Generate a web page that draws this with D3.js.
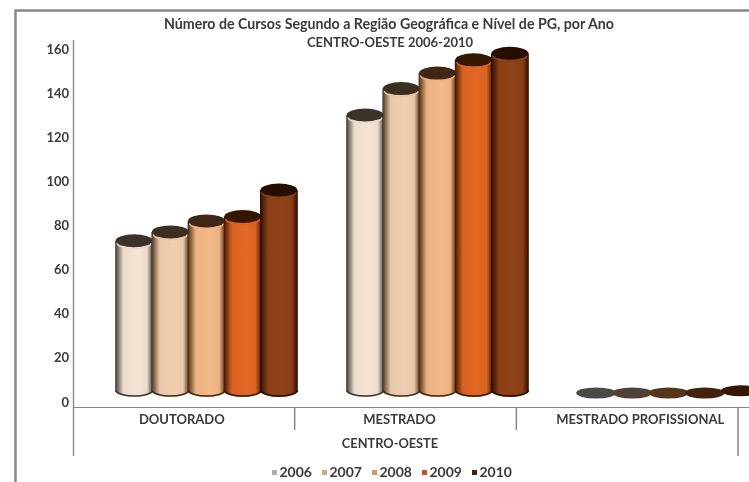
<!DOCTYPE html>
<html><head><meta charset="utf-8">
<script src="https://cdn.jsdelivr.net/npm/d3@7"></script>
<style>html,body{margin:0;padding:0;background:#fff;overflow:hidden}
svg{display:block}text{font-family:Lato,"Open Sans",sans-serif;font-weight:700;fill:#3a3a3a}</style>
</head><body><svg id="c" width="749" height="482"></svg>
<script>
const categories = ["DOUTORADO","MESTRADO","MESTRADO PROFISSIONAL"];
const years = ["2006","2007","2008","2009","2010"];
const values2006 = [69,126,0];
const values2007 = [73,138,0];
const values2008 = [78,145,0];
const values2009 = [80,151,0];
const values2010 = [92,154,1];
const seriesValues = [values2006,values2007,values2008,values2009,values2010];
const yTicks = [0,20,40,60,80,100,120,140,160];
const colors = ["#ecdccd","#e8c8aa","#ebb283","#da6324","#8a3f16"];
const darks  = ["#3a322c","#3e2e20","#402712","#341606","#260e04"];
const rim    = ["#7a6f65","#806248","#805630","#74300c","#4c1c08"];
const diskColors = ["#4c4844","#4e4236","#54361e","#44220e","#341404"];
const title1 = "Número de Cursos Segundo a Região Geográfica e Nível de PG, por Ano";
const title2 = "CENTRO-OESTE 2006-2010";
const regionLabel = "CENTRO-OESTE";

const svg = d3.select("#c");
const defs = svg.append("defs");
const f = (id,s)=>defs.append("filter").attr("id",id).attr("x","-5%").attr("y","-5%").attr("width","110%").attr("height","110%")
  .append("feGaussianBlur").attr("stdDeviation",s);
f("soft",0.6); f("softText",0.55);
colors.forEach((c,i)=>{
  const g = defs.append("linearGradient").attr("id","g"+i);
  [[0,darks[i]],[0.07,rim[i]],[0.22,c],[0.6,d3.color(c).brighter(0.1)],[0.84,c],[0.95,rim[i]],[1,darks[i]]]
    .forEach(s=>g.append("stop").attr("offset",s[0]).attr("stop-color",s[1]));
});
const root = svg.append("g").attr("filter","url(#soft)");
const textRoot = svg.append("g").attr("filter","url(#softText)");

// frame
root.append("path").attr("d","M15.5,482V10.5H749").attr("fill","none").attr("stroke","#868686").attr("stroke-width",2.4);

// scales
const labelY = d3.scaleLinear().domain([0,160]).range([402,49]);
const barY = d3.scaleLinear().domain([0,160]).range([393,40]);
const sepX = d3.scaleBand().domain(categories).range([73,738]);
const groupX = d3.scaleBand().domain(categories).range([91,784]);
const barX = d3.scaleBand().domain(years).range([0,181]);
const labelShift = [-2,-6,13];

// axes lines
const ax = "#868686";
root.append("path").attr("d","M73.5,40V456").attr("stroke",ax).attr("stroke-width",1.3).attr("fill","none");
root.append("path").attr("d","M73,407.5H749").attr("stroke",ax).attr("stroke-width",1.1).attr("fill","none");
categories.forEach(c=>{
  const x = sepX(c)+sepX.bandwidth();
  const last = c===categories[categories.length-1];
  root.append("path").attr("d",`M${x},408V${last?456:430}`).attr("stroke",ax).attr("stroke-width",1.5).attr("fill","none");
});

// y labels
textRoot.selectAll(".yl").data(yTicks).join("text").attr("class","yl")
  .attr("x",69).attr("y",d=>labelY(d)).attr("dy","0.35em").attr("text-anchor","end")
  .attr("font-size",13).text(d=>d);

// cylinders
const ry = 6.5, rx = barX.bandwidth()/2 + 0.8;
categories.forEach((cat,ci)=>{
  years.forEach((yr,si)=>{
    const v = seriesValues[si][ci];
    const cx = groupX(cat)+ (groupX.bandwidth()-181)/2 + barX(yr) + barX.bandwidth()/2;
    const yb = barY(0), yt = barY(v);
    const g = root.append("g");
    if (v > 5) {
      const arc = `A${rx},${ry} 0 0 0 ${cx+rx},${yb-ry+4}`;
      g.append("path").attr("d",`M${cx-rx},${yt}V${yb-ry+4}${arc}V${yt}Z`).attr("fill",`url(#g${si})`);
      g.append("path").attr("d",`M${cx-rx+0.5},${yb-ry+4}${arc}`).attr("fill","none").attr("stroke",darks[si]).attr("stroke-width",1.6);
      g.append("ellipse").attr("cx",cx).attr("cy",yt).attr("rx",rx-0.5).attr("ry",ry).attr("fill",darks[si]);
      g.append("path").attr("d",`M${cx-rx+2},${yt+2.5}A${rx-2},${ry-1} 0 0 0 ${cx+rx-2},${yt+2.5}`)
       .attr("fill","none").attr("stroke",colors[si]).attr("stroke-width",1.4);
    } else {
      g.append("ellipse").attr("cx",cx).attr("cy",yt).attr("rx",rx+1).attr("ry",5.5)
       .attr("fill",diskColors[si]);
    }
  });
});

// category labels
categories.forEach((c,i)=>{
  textRoot.append("text").attr("x",sepX(c)+sepX.bandwidth()/2+labelShift[i]).attr("y",419)
    .attr("dy","0.35em").attr("text-anchor","middle").attr("font-size",13).text(c);
});
textRoot.append("text").attr("x",390).attr("y",444).attr("dy","0.35em").attr("text-anchor","middle").attr("font-size",12.8).text(regionLabel);

// titles
textRoot.append("text").attr("x",389).attr("y",24).attr("dy","0.35em").attr("text-anchor","middle").attr("font-size",14.2).text(title1);
textRoot.append("text").attr("x",390).attr("y",42).attr("dy","0.35em").attr("text-anchor","middle").attr("font-size",13).text(title2);

// legend
const legX = d3.scalePoint().domain(years).range([272,472]);
years.forEach((y,i)=>{
  root.append("rect").attr("x",legX(y)).attr("y",470).attr("width",5).attr("height",5).attr("fill",i==4?"#4a2210":i==0?"#b8aca0":d3.color(colors[i]).darker(0.4));
  textRoot.append("text").attr("x",legX(y)+7.5).attr("y",472).attr("dy","0.35em").attr("font-size",14).text(y);
});
</script></body></html>
